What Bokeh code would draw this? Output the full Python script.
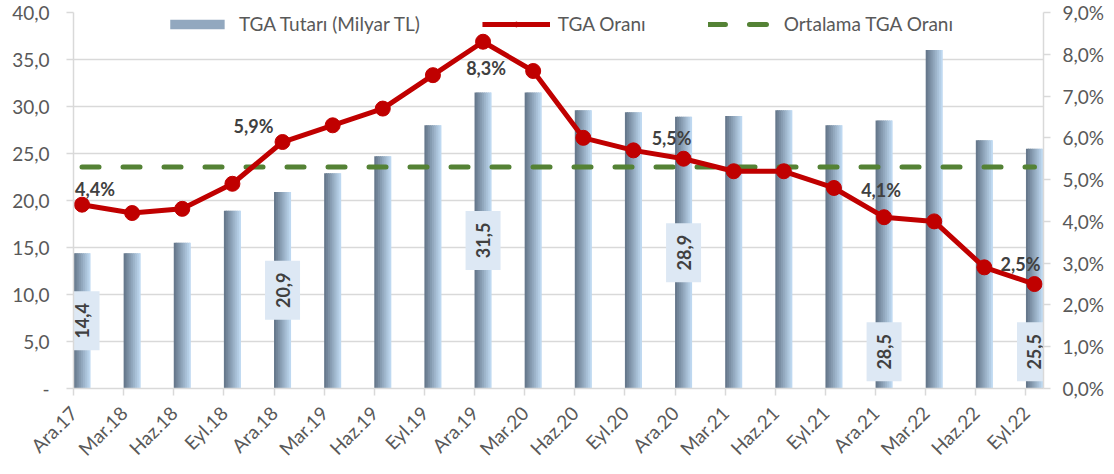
from math import pi
import numpy as np
from bokeh.plotting import figure
from bokeh.models import (Range1d, LinearAxis, FixedTicker, CustomJSTickFormatter, Legend, LegendItem,
                          Label)
from bokeh.core.properties import value
from bokeh.embed import file_html
from bokeh.resources import INLINE

# ---------------- data ----------------
categories = ["Ara.17", "Mar.18", "Haz.18", "Eyl.18", "Ara.18", "Mar.19", "Haz.19", "Eyl.19",
              "Ara.19", "Mar.20", "Haz.20", "Eyl.20", "Ara.20", "Mar.21", "Haz.21", "Eyl.21",
              "Ara.21", "Mar.22", "Haz.22", "Eyl.22"]
tga_amount = [14.4, 14.4, 15.5, 18.9, 20.9, 22.9, 24.7, 28.0, 31.5, 31.5,
              29.6, 29.4, 28.9, 29.0, 29.6, 28.0, 28.5, 36.0, 26.4, 25.5]
tga_ratio = [4.4, 4.2, 4.3, 4.9, 5.9, 6.3, 6.7, 7.5, 8.3, 7.6,
             6.0, 5.7, 5.5, 5.2, 5.2, 4.8, 4.1, 4.0, 2.9, 2.5]
avg_ratio = 5.3
left_ticks = [0, 5, 10, 15, 20, 25, 30, 35, 40]
right_ticks = [0, 1, 2, 3, 4, 5, 6, 7, 8, 9]
labeled = [0, 4, 8, 12, 16, 19]

# ---------------- style / layout ----------------
FONT = "Lato"
GRAY_TXT = "#595959"
DARK_TXT = "#404040"
AXIS_GRAY = "#d9d9d9"
RED = "#c00000"
GREEN = "#548235"
BAR_W = 0.34
SHIFT = 0.17  # category tick marks sit at the left edge of each bar
line_lab_dx = [13, -29, 3, -12, -3, -14]
line_lab_dy = [16, 16, -26, 21, 27, 20]   # screen offsets: positive = up
bar_lab_y = [tga_amount[0] / 2, tga_amount[4] / 2, tga_amount[8] / 2, tga_amount[12] / 2, 3.9, 3.9]

x = np.arange(len(categories))

W, H = 1110, 470
p = figure(width=W, height=H, output_backend="svg", toolbar_location=None,
           x_range=Range1d(-SHIFT, 19.18), y_range=Range1d(0, 40),
           min_border_left=73, min_border_right=W - 1043, min_border_top=12,
           min_border_bottom=H - 394)
p.outline_line_color = None
p.background_fill_color = "white"
p.border_fill_color = "white"
p.xgrid.grid_line_color = None
p.ygrid.grid_line_color = AXIS_GRAY
p.ygrid.grid_line_width = 1.5
p.ygrid.ticker = FixedTicker(ticks=left_ticks)

# x axis
xa = p.xaxis[0]
xa.ticker = FixedTicker(ticks=[i - SHIFT for i in range(len(categories))])
xa.formatter = CustomJSTickFormatter(args=dict(labels=categories, shift=SHIFT),
                                     code="return labels[Math.round(tick + shift)] || '';")
xa.major_label_orientation = pi / 4
xa.axis_line_color = AXIS_GRAY
xa.axis_line_width = 1.5
xa.major_tick_line_color = AXIS_GRAY
xa.major_tick_line_width = 1.5
xa.major_tick_out = 7
xa.major_tick_in = 0
xa.minor_tick_line_color = None
xa.major_label_standoff = 14
xa.major_label_text_font = FONT
xa.major_label_text_font_size = "19px"
xa.major_label_text_color = GRAY_TXT

# left axis
ya = p.yaxis[0]
ya.ticker = FixedTicker(ticks=left_ticks)
ya.formatter = CustomJSTickFormatter(code="return tick == 0 ? '-' : tick.toFixed(1).replace('.', ',');")
ya.axis_line_color = AXIS_GRAY
ya.axis_line_width = 1.5
ya.major_tick_line_color = AXIS_GRAY
ya.major_tick_line_width = 1.5
ya.major_tick_out = 7
ya.major_tick_in = 0
ya.minor_tick_line_color = None
ya.major_label_standoff = 17
ya.major_label_text_font = FONT
ya.major_label_text_font_size = "19px"
ya.major_label_text_color = GRAY_TXT

# right axis
p.extra_y_ranges = {"pct": Range1d(0, 9)}
ra = LinearAxis(y_range_name="pct")
ra.ticker = FixedTicker(ticks=right_ticks)
ra.formatter = CustomJSTickFormatter(code="return tick.toFixed(1).replace('.', ',') + '%';")
ra.axis_line_color = AXIS_GRAY
ra.axis_line_width = 1.5
ra.major_tick_line_color = AXIS_GRAY
ra.major_tick_line_width = 1.5
ra.major_tick_out = 7
ra.major_tick_in = 0
ra.minor_tick_line_color = None
ra.major_label_standoff = 12
ra.major_label_text_font = FONT
ra.major_label_text_font_size = "19px"
ra.major_label_text_color = GRAY_TXT
p.add_layout(ra, "right")

# bars with a simulated horizontal gradient (overlapping thin slices)
c0 = np.array([0x66, 0x78, 0x8c])
c1 = np.array([0xbe, 0xd8, 0xf0])
n_sl = 9
sl_w = BAR_W / n_sl
for k in range(n_sl):
    f = k / (n_sl - 1)
    c = (c0 + (c1 - c0) * f).astype(int)
    col = "#%02x%02x%02x" % tuple(c)
    left = -BAR_W / 2 + k * sl_w
    right = BAR_W / 2 if k == n_sl - 1 else left + sl_w * 1.6
    p.quad(left=x + left, right=x + right, bottom=0, top=tga_amount,
           fill_color=col, line_color=None)
legend_bar = p.rect(x=[0], y=[-10], width=0, height=0, fill_color="#92a8bf", line_color=None)

# average line
avg_r = p.line(x=[x[0], x[-1]], y=[avg_ratio, avg_ratio], y_range_name="pct",
               line_color=GREEN, line_width=5, line_dash="17 24", line_cap="round")

# ratio line
line_r = p.line(x=x, y=tga_ratio, y_range_name="pct", line_color=RED, line_width=5, line_join="round")
pts_r = p.scatter(x=x, y=tga_ratio, y_range_name="pct", size=15, fill_color=RED, line_color=RED)

# line labels
for j, i in enumerate(labeled):
    p.add_layout(Label(x=float(x[i]), y=tga_ratio[i], y_range_name="pct",
                       text=("%.1f" % tga_ratio[i]).replace(".", ",") + "%",
                       x_offset=line_lab_dx[j], y_offset=line_lab_dy[j],
                       text_align="center", text_baseline="middle", text_font=FONT,
                       text_font_style="bold", text_font_size="18px", text_color=DARK_TXT))

# bar labels in boxes
p.rect(x=[x[i] for i in labeled], y=bar_lab_y, width=35, height=59,
       width_units="screen", height_units="screen", fill_color="#dde8f4", line_color=None)
p.text(x=[x[i] for i in labeled], y=bar_lab_y,
       text=[("%.1f" % tga_amount[i]).replace(".", ",") for i in labeled],
       angle=pi / 2, text_align="center", text_baseline="middle", text_font=value(FONT),
       text_font_style="bold", text_font_size="18px", text_color=DARK_TXT)

legend = Legend(items=[
    LegendItem(label="TGA Tutarı (Milyar TL)", renderers=[legend_bar]),
    LegendItem(label="TGA Oranı", renderers=[line_r, pts_r]),
    LegendItem(label="Ortalama TGA Oranı", renderers=[avg_r]),
], orientation="horizontal", location="top_center", border_line_color=None,
    background_fill_alpha=0, margin=0, padding=0, spacing=62, glyph_width=68, glyph_height=12,
    label_standoff=8, label_height=20, label_text_font=FONT, label_text_font_size="19px",
    label_text_color=GRAY_TXT, label_text_baseline="middle")
p.add_layout(legend)

open("out.html", "w").write(file_html(p, INLINE))
